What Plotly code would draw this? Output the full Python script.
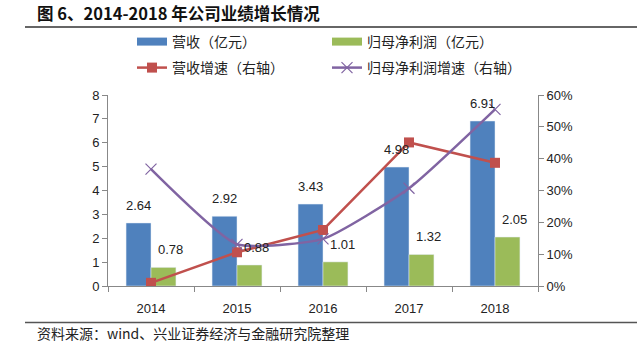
import plotly.graph_objects as go

years = ["2014", "2015", "2016", "2017", "2018"]
revenue = [2.64, 2.92, 3.43, 4.98, 6.91]
net_profit = [0.78, 0.88, 1.01, 1.32, 2.05]
revenue_growth = [0.01, 0.106, 0.176, 0.451, 0.387]
profit_growth = [0.367, 0.131, 0.148, 0.307, 0.555]

BLUE = "#4F81BD"
GREEN = "#9BBB59"
RED = "#C0504D"
PURPLE = "#8064A2"

W, H = 641, 355
L, R, T, B = 108, 103, 95, 69
PW, PH = W - L - R, H - T - B


def px_x(p):
    return (p - L) / PW


def px_y(p):
    return (H - B - p) / PH


fig = go.Figure()
fig.add_trace(go.Bar(x=years, y=revenue, name="营收（亿元）", marker_color=BLUE,
                     offsetgroup="a", showlegend=False))
fig.add_trace(go.Bar(x=years, y=net_profit, name="归母净利润（亿元）", marker_color=GREEN,
                     offsetgroup="b", showlegend=False))
fig.add_trace(go.Scatter(x=years, y=revenue_growth, name="营收增速（右轴）", yaxis="y2",
                         mode="lines+markers", line=dict(color=RED, width=2.5),
                         marker=dict(symbol="square", size=10, color=RED),
                         legend="legend3"))
fig.add_trace(go.Scatter(x=years, y=profit_growth, name="归母净利润增速（右轴）", yaxis="y2",
                         mode="lines+markers", line=dict(color=PURPLE, width=2.5, shape="spline", smoothing=0.5),
                         marker=dict(symbol="x-thin", size=11, color=PURPLE,
                                     line=dict(color=PURPLE, width=1.2)),
                         legend="legend4"))
# legend swatches for the bar series (wide rectangles as in the reference)
fig.add_trace(go.Scatter(x=[None], y=[None], name="营收（亿元）", mode="lines",
                         line=dict(color=BLUE, width=8), legend="legend", hoverinfo="skip"))
fig.add_trace(go.Scatter(x=[None], y=[None], name="归母净利润（亿元）", mode="lines",
                         line=dict(color=GREEN, width=8), legend="legend2", hoverinfo="skip"))

label_font = dict(size=13, color="#222", family="Liberation Sans, Arial")
annotations = []
for i, v in enumerate(revenue):
    annotations.append(dict(x=i, y=v, xref="x", yref="y", text=f"{v:.2f}", showarrow=False,
                            xshift=-12.5, yshift=8, yanchor="bottom", font=label_font))
for i, v in enumerate(net_profit):
    annotations.append(dict(x=i, y=v, xref="x", yref="y", text=f"{v:.2f}", showarrow=False,
                            xshift=19, yshift=8, yanchor="bottom", font=label_font))

annotations.append(dict(x=px_x(35), y=px_y(13), xref="paper", yref="paper",
                        text="<b>图 6、2014-2018 年公司业绩增长情况</b>", showarrow=False,
                        xanchor="left", yanchor="middle",
                        font=dict(size=16.5, color="#111", family="Noto Sans CJK SC")))
annotations.append(dict(x=px_x(35), y=px_y(333), xref="paper", yref="paper",
                        text="资料来源：wind、兴业证券经济与金融研究院整理", showarrow=False,
                        xanchor="left", yanchor="middle",
                        font=dict(size=14, color="#222", family="Noto Sans CJK SC")))

shapes = [
    dict(type="line", xref="paper", yref="paper", x0=px_x(25), x1=px_x(637),
         y0=px_y(27), y1=px_y(27), line=dict(color="#333", width=1.5)),
    dict(type="line", xref="paper", yref="paper", x0=px_x(25), x1=px_x(637),
         y0=px_y(322.5), y1=px_y(322.5), line=dict(color="#555", width=1.5)),
]

axis_font = dict(size=13, color="#222", family="Liberation Sans, Arial")
legend_font = dict(size=14, color="#222", family="Noto Sans CJK SC")


def leg(xpx, ypx):
    return dict(orientation="h", x=px_x(xpx), y=px_y(ypx), xanchor="left", yanchor="middle",
                font=legend_font, bgcolor="rgba(0,0,0,0)", itemclick=False, itemdoubleclick=False)


fig.update_layout(
    width=W, height=H,
    margin=dict(l=L, r=R, t=T, b=B),
    paper_bgcolor="white", plot_bgcolor="white",
    barmode="group", bargap=0.42, bargroupgap=0,
    showlegend=True,
    legend=leg(132, 42),
    legend2=leg(327, 42),
    legend3=leg(132, 68),
    legend4=leg(327, 68),
    xaxis=dict(type="category", range=[-0.5, 4.5], showline=True, linecolor="#888", linewidth=1,
               ticks="outside", tickson="boundaries", ticklen=5, tickcolor="#888",
               showgrid=False, tickfont=axis_font, zeroline=False, ticklabelstandoff=10),
    yaxis=dict(range=[0, 8], dtick=1, showline=True, linecolor="#888", linewidth=1,
               ticks="outside", ticklen=5, tickcolor="#888", showgrid=False,
               tickfont=axis_font, zeroline=False),
    yaxis2=dict(range=[0, 0.6], dtick=0.1, tickformat=".0%", overlaying="y", side="right",
                showline=True, linecolor="#888", linewidth=1, ticks="outside", ticklen=5,
                tickcolor="#888", showgrid=False, tickfont=axis_font, zeroline=False),
    annotations=annotations,
    shapes=shapes,
)

fig.write_html("out.html", config={"displayModeBar": False},
               post_script="document.body.style.margin='0';")
